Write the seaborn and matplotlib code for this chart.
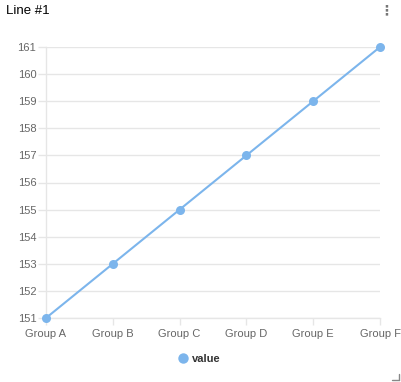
import matplotlib
matplotlib.use("Agg")
import matplotlib.pyplot as plt
import seaborn as sns
import pandas as pd
from matplotlib.lines import Line2D

groups = ["Group A", "Group B", "Group C", "Group D", "Group E", "Group F"]
values = [151, 153, 155, 157, 159, 161]
yticks = [151, 152, 153, 154, 155, 156, 157, 158, 159, 160, 161]

df = pd.DataFrame({"group": groups, "value": values})
df["x"] = range(len(groups))

sns.set_theme(style="white")
plt.rcParams['font.family'] = ['Liberation Sans', 'DejaVu Sans']

W, H = 402, 382
fig = plt.figure(figsize=(W / 100, H / 100), dpi=100)
ax = fig.add_axes([46 / W, 1 - 318 / H, (380 - 46) / W, (318 - 47) / H])

color = "#7cb5ec"
sns.lineplot(data=df, x="x", y="value", ax=ax, color=color, linewidth=1.5,
             marker="o", markersize=6.5, markeredgewidth=0, clip_on=False, zorder=3)

ax.set_xlim(0, len(groups) - 1)
ax.set_ylim(yticks[0], yticks[-1])
ax.set_xticks(range(len(groups)))
ax.set_xticklabels(groups)
ax.set_yticks(yticks)
ax.set_xlabel("")
ax.set_ylabel("")
ax.grid(axis="y", color="#e6e6e6", linewidth=1)
ax.set_axisbelow(True)
for s in ["top", "right"]:
    ax.spines[s].set_visible(False)
ax.spines["left"].set_color("#e6e6e6")
ax.spines["bottom"].set_color("#e6e6e6")
ax.spines["left"].set_linewidth(1)
ax.spines["bottom"].set_linewidth(1)
ax.tick_params(axis="y", length=6, width=1, color="#e6e6e6", labelsize=8, labelcolor="#666666", pad=1, left=True)
ax.tick_params(axis="x", length=5, width=1, color="#e6e6e6", labelsize=8, labelcolor="#666666", pad=3, bottom=True, direction="out")

fig.text(6 / W, 1 - 11 / H, "Line #1", fontsize=9.5, color="#000000", va="center", ha="left")
fig.text(386 / W, 1 - 10 / H, "⋮", fontsize=10, color="#777777", va="center", ha="center",
         family=["DejaVu Sans"], fontweight="bold")

handle = Line2D([], [], color=color, marker="o", linestyle="none", markersize=7.5, markeredgewidth=0)
fig.legend([handle], ["value"], loc="center", bbox_to_anchor=(199 / W, 1 - 359 / H),
           frameon=False, prop={"weight": "bold", "size": 8}, handletextpad=0.3,
           handlelength=1.0, borderpad=0, labelcolor="#333333")

# resize corner glyph
fig.add_artist(Line2D([392 / W, 399 / W], [1 - 380 / H, 1 - 380 / H], color="#888888", linewidth=1))
fig.add_artist(Line2D([399 / W, 399 / W], [1 - 380 / H, 1 - 374 / H], color="#888888", linewidth=1))

fig.savefig("out.png", dpi=100)
